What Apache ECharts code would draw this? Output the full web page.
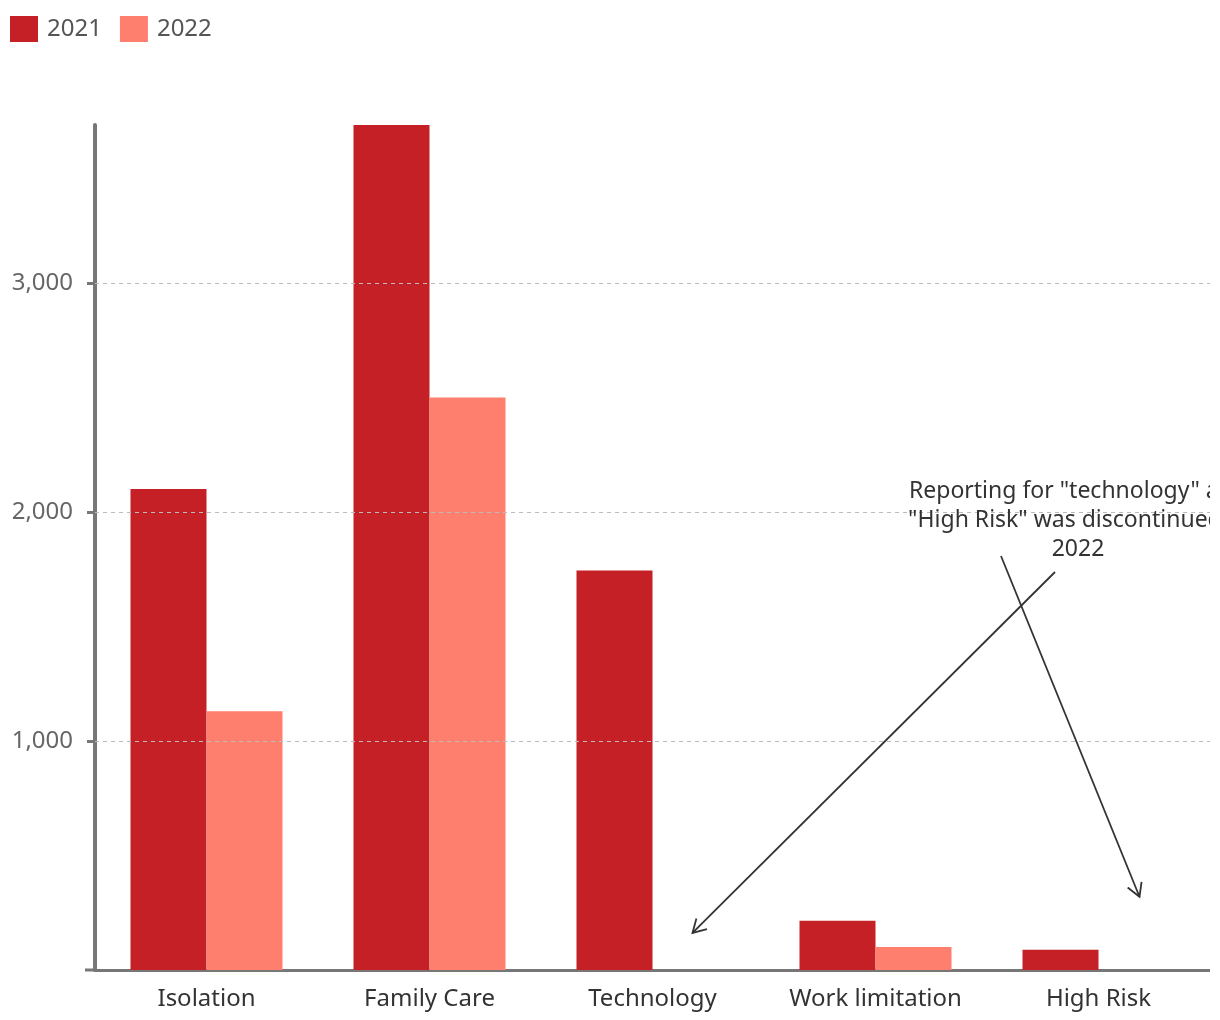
<!DOCTYPE html>
<html>
<head>
<meta charset="utf-8">
<script src="https://cdn.jsdelivr.net/npm/echarts@6/dist/echarts.min.js"></script>
<style>
html,body{margin:0;padding:0;background:#fff;overflow:hidden;}
#main{width:1210px;height:1020px;overflow:hidden;}
</style>
</head>
<body>
<div id="main"></div>
<script>
const categories = ['Isolation', 'Family Care', 'Technology', 'Work limitation', 'High Risk'];
const values2021 = [2100, 3690, 1745, 215, 88];
const values2022 = [1130, 2500, null, 100, null];
const seriesNames = ['2021', '2022'];
const yTicks = [1000, 2000, 3000];
const annotationText = 'Reporting for "technology" and\n"High Risk" was discontinued in\n2022';

const FONT = '"Noto Sans", "Open Sans", sans-serif';
const chart = echarts.init(document.getElementById('main'), null, {renderer: 'canvas'});

const option = {
  animation: false,
  textStyle: {fontFamily: FONT},
  legend: {
    left: 10, top: 16, padding: 0, itemWidth: 28, itemHeight: 26, itemGap: 18,
    icon: 'rect',
    textStyle: {fontSize: 24, color: '#555', fontFamily: FONT, padding: [0, 0, 0, 4]},
    data: seriesNames
  },
  grid: {left: 95, right: 0, top: 125, bottom: 50},
  xAxis: {
    type: 'category',
    data: categories,
    axisLine: {lineStyle: {color: '#777', width: 3}},
    axisTick: {show: false},
    axisLabel: {fontSize: 24, color: '#333', margin: 17, fontFamily: FONT, interval: 0, hideOverlap: false}
  },
  yAxis: {
    type: 'value',
    min: 0, max: 3690, interval: 1000,
    axisLine: {show: true, lineStyle: {color: '#777', width: 4}},
    axisTick: {show: true, length: 8, lineStyle: {color: '#777', width: 3}},
    axisLabel: {
      fontSize: 24, color: '#666', margin: 22, fontFamily: FONT,
      showMinLabel: false, showMaxLabel: false,
      formatter: v => yTicks.includes(v) ? v.toLocaleString('en-US') : ''
    },
    splitLine: {show: false}
  },
  series: [
    {name: seriesNames[0], type: 'bar', data: values2021, barWidth: 76, barGap: 0,
     itemStyle: {color: '#C42026'},
     markLine: {
       silent: true, symbol: 'none', label: {show: false},
       lineStyle: {color: '#bbb', type: [4, 4], width: 1},
       data: yTicks.map(v => ({yAxis: v}))
     }},
    {name: seriesNames[1], type: 'bar', data: values2022, barWidth: 76, barGap: 0,
     itemStyle: {color: '#FF7F6E'}}
  ]
};
chart.setOption(option);

function arrow(x1, y1, x2, y2) {
  const ang = Math.atan2(y2 - y1, x2 - x1);
  const L = 15, a = Math.PI / 6;
  const p1 = [x2 - L * Math.cos(ang - a), y2 - L * Math.sin(ang - a)];
  const p2 = [x2 - L * Math.cos(ang + a), y2 - L * Math.sin(ang + a)];
  const st = {stroke: '#333', lineWidth: 1.8, fill: null};
  return [
    {type: 'line', shape: {x1, y1, x2, y2}, style: st, z: 10},
    {type: 'polyline', shape: {points: [p1, [x2, y2], p2]}, style: st, z: 10}
  ];
}

// annotation anchors derived from the axes
const half = 38;
const tech = chart.convertToPixel({xAxisIndex: 0, yAxisIndex: 0}, ['Technology', 162]);
const high = chart.convertToPixel({xAxisIndex: 0, yAxisIndex: 0}, ['High Risk', 320]);
const origin = chart.convertToPixel({xAxisIndex: 0, yAxisIndex: 0}, ['Isolation', 0]);

const textX = 1078, textY = 477;
const graphics = [
  {type: 'text', x: textX, y: textY, z: 10,
   style: {text: annotationText, fill: '#333', font: '23px ' + FONT, textAlign: 'center', textVerticalAlign: 'top', lineHeight: 29}},
  {type: 'line', shape: {x1: 85, y1: origin[1], x2: 95, y2: origin[1]}, style: {stroke: '#777', lineWidth: 3}}
].concat(arrow(1055, 572, tech[0] + half + 2, tech[1]))
 .concat(arrow(1001, 556, high[0] + half + 3, high[1]));

chart.setOption({graphic: graphics});
</script>
</body>
</html>
